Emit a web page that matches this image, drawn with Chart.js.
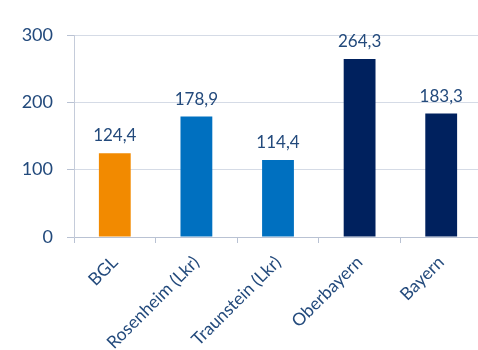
<!DOCTYPE html>
<html>
<head>
<meta charset="utf-8">
<script src="https://cdn.jsdelivr.net/npm/chart.js@4/dist/chart.umd.min.js"></script>
<style>
  html, body { margin: 0; padding: 0; background: #ffffff; overflow: hidden; }
  #wrap { width: 482px; height: 350px; position: relative; }
</style>
</head>
<body>
<div id="wrap"><canvas id="chart"></canvas></div>
<script>
// Regions and their values
const categories = ['BGL', 'Rosenheim (Lkr)', 'Traunstein (Lkr)', 'Oberbayern', 'Bayern'];
const values = [124.4, 178.9, 114.4, 264.3, 183.3];
const barColors = ['#f28a00', '#0070c0', '#0070c0', '#00215e', '#00215e'];
const yTicks = [0, 100, 200, 300];

const textColor = '#234a7c';
const gridColor = '#d5dbe6';
const fontFamily = 'Lato, "Open Sans", sans-serif';

const formatValue = v => v.toFixed(1).replace('.', ',');

// Writes each bar's value above it
const valueLabels = {
  id: 'valueLabels',
  afterDatasetsDraw(chart) {
    const ctx = chart.ctx;
    const meta = chart.getDatasetMeta(0);
    ctx.save();
    ctx.font = '17px ' + fontFamily;
    ctx.fillStyle = textColor;
    ctx.textAlign = 'center';
    ctx.textBaseline = 'alphabetic';
    meta.data.forEach((bar, i) => {
      ctx.fillText(formatValue(values[i]), bar.x, bar.y - 12);
    });
    ctx.restore();
  }
};

new Chart(document.getElementById('chart'), {
  type: 'bar',
  data: {
    labels: categories,
    datasets: [{
      data: values,
      backgroundColor: barColors,
      borderWidth: 0,
      barPercentage: 0.39,
      categoryPercentage: 1
    }]
  },
  options: {
    responsive: true,
    maintainAspectRatio: false,
    animation: false,
    layout: { padding: { top: 35, right: 0, left: 0, bottom: 0 } },
    plugins: {
      legend: { display: false },
      tooltip: { enabled: false }
    },
    scales: {
      x: {
        grid: {
          display: true,
          drawOnChartArea: false,
          offset: true,
          color: '#b9c2d3',
          tickLength: 6
        },
        border: { display: true, color: '#b9c2d3' },
        ticks: {
          color: textColor,
          font: { size: 17.5, family: fontFamily },
          minRotation: 45,
          maxRotation: 45,
          padding: 9
        },
        afterFit(scale) { scale.height = 113; }
      },
      y: {
        min: 0,
        max: 300,
        afterBuildTicks(scale) { scale.ticks = yTicks.map(v => ({ value: v })); },
        grid: {
          color: gridColor,
          tickLength: 7,
          tickColor: '#b9c2d3'
        },
        border: { display: true, color: '#c5ccda' },
        ticks: {
          color: textColor,
          font: { size: 18, family: fontFamily },
          padding: 14
        },
        afterFit(scale) { scale.width = 74; }
      }
    }
  },
  plugins: [valueLabels]
});
</script>
</body>
</html>
